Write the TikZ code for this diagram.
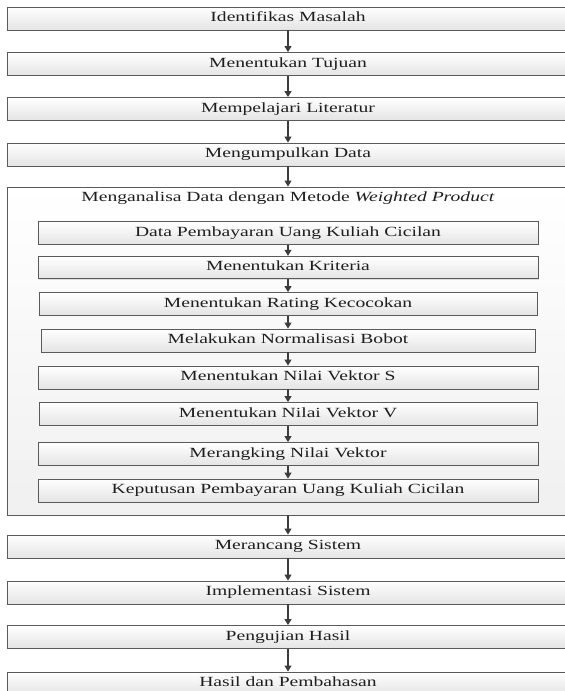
\documentclass[tikz,border=0pt]{standalone}
\usepackage{fontspec}
\setmainfont{Liberation Serif}
\usetikzlibrary{arrows.meta,shadows}
\definecolor{boxline}{HTML}{5A5A5A}
\definecolor{boxbot}{HTML}{E4E4E4}
\definecolor{bigbot}{HTML}{F0F0F0}
\definecolor{arrc}{HTML}{3C3C3C}
\definecolor{textc}{HTML}{1E1E1E}
\newcommand{\wtxt}[1]{\scalebox{1.4}[1]{#1}}
\begin{document}
\begin{tikzpicture}[x=1pt,y=-1pt,
  box/.style={draw=boxline, line width=0.9pt, top color=white, bottom color=boxbot,
    minimum height=23pt, inner sep=0pt, text height=9.5pt, text depth=3pt,
    font=\fontsize{14}{16}\selectfont, text=textc,
    drop shadow={opacity=0.25, shadow xshift=0.8pt, shadow yshift=-0.8pt}},
  obox/.style={box, minimum width=562pt},
  ibox/.style={box, minimum width=500pt},
  bigbox/.style={draw=boxline, line width=0.9pt, top color=white, bottom color=bigbot,
    minimum width=562pt, minimum height=328pt, inner sep=0pt},
  titletext/.style={inner sep=0pt, text height=9.5pt, text depth=3pt,
    font=\fontsize{14}{16}\selectfont, text=textc},
  arr/.style={draw=arrc, line width=1.1pt, -{Triangle[length=6pt,width=7pt]}}]
\useasboundingbox (0,0) rectangle (565,691);
\fill[white] (0,0) rectangle (565,691);

% outer boxes
\node[obox] (b1) at (288,18.5) {\wtxt{Identifikas Masalah}};
\node[obox] (b2) at (288,64) {\wtxt{Menentukan Tujuan}};
\node[obox] (b3) at (288,109) {\wtxt{Mempelajari Literatur}};
\node[obox] (b4) at (288,154.5) {\wtxt{Mengumpulkan Data}};

% big box
\node[bigbox] (big) at (288,351) {};
\node[titletext] (title) at (288,198) {\wtxt{Menganalisa Data dengan Metode \textit{Weighted Product}}};

% inner boxes
\node[ibox] (i1) at (288,233) {\wtxt{Data Pembayaran Uang Kuliah Cicilan}};
\node[ibox, minimum height=22.5pt] (i2) at (288,267.5) {\wtxt{Menentukan Kriteria}};
\node[ibox, minimum width=498pt] (i3) at (288,304) {\wtxt{Menentukan Rating Kecocokan}};
\node[ibox, minimum width=494pt] (i4) at (288,340.5) {\wtxt{Melakukan Normalisasi Bobot}};
\node[ibox] (i5) at (288,377.5) {\wtxt{Menentukan Nilai Vektor S}};
\node[ibox, minimum width=498pt] (i6) at (288,414) {\wtxt{Menentukan Nilai Vektor V}};
\node[ibox] (i7) at (288,454) {\wtxt{Merangking Nilai Vektor}};
\node[ibox] (i8) at (288,490.5) {\wtxt{Keputusan Pembayaran Uang Kuliah Cicilan}};

% lower boxes
\node[obox] (b5) at (288,546.5) {\wtxt{Merancang Sistem}};
\node[obox] (b6) at (288,592.5) {\wtxt{Implementasi Sistem}};
\node[obox] (b7) at (288,637) {\wtxt{Pengujian Hasil}};
\node[obox] (b8) at (288,683.5) {\wtxt{Hasil dan Pembahasan}};

% arrows
\draw[arr] (b1) -- (b2);
\draw[arr] (b2) -- (b3);
\draw[arr] (b3) -- (b4);
\draw[arr] (b4) -- (big);
\draw[arr] (i1) -- (i2);
\draw[arr] (i2) -- (i3);
\draw[arr] (i3) -- (i4);
\draw[arr] (i4) -- (i5);
\draw[arr] (i5) -- (i6);
\draw[arr] (i6) -- (i7);
\draw[arr] (i7) -- (i8);
\draw[arr] (big) -- (b5);
\draw[arr] (b5) -- (b6);
\draw[arr] (b6) -- (b7);
\draw[arr] (b7) -- (b8);
\end{tikzpicture}
\end{document}
